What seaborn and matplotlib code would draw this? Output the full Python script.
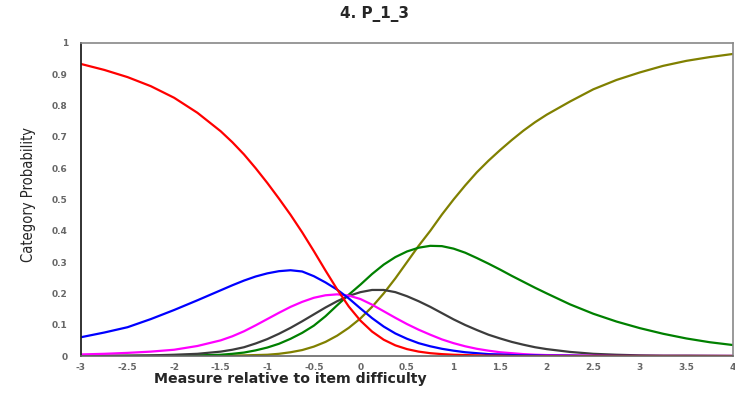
import matplotlib
matplotlib.use("Agg")
import pandas as pd
import matplotlib.pyplot as plt
import seaborn as sns
from matplotlib import font_manager

# measure relative to item difficulty (logits); finer steps where the curves bend
measure = [-3, -2.75, -2.5, -2.25, -2, -1.75, -1.5,
           -1.375, -1.25, -1.125, -1, -0.875, -0.75, -0.625, -0.5, -0.375, -0.25,
           -0.125, 0, 0.125, 0.25, 0.375, 0.5, 0.625, 0.75, 0.875, 1, 1.125, 1.25,
           1.375, 1.5, 1.625, 1.75, 1.875, 2,
           2.25, 2.5, 2.75, 3, 3.25, 3.5, 3.75, 4]

# category probability curves
cat_red = [0.933, 0.914, 0.891, 0.862, 0.825, 0.777, 0.718,
           0.683, 0.644, 0.6, 0.553, 0.503, 0.451, 0.395, 0.335, 0.273, 0.213,
           0.158, 0.113, 0.078, 0.052, 0.034, 0.022, 0.014, 0.009, 0.006, 0.004,
           0.003, 0.002, 0.001, 0.001, 0, 0, 0, 0,
           0, 0, 0, 0, 0, 0, 0, 0]
cat_blue = [0.06, 0.075, 0.092, 0.118, 0.147, 0.178, 0.21,
            0.226, 0.241, 0.254, 0.264, 0.271, 0.274, 0.27, 0.255, 0.235, 0.212,
            0.184, 0.152, 0.121, 0.094, 0.072, 0.055, 0.041, 0.031, 0.023, 0.017,
            0.012, 0.009, 0.006, 0.005, 0.003, 0.002, 0.002, 0.001,
            0.001, 0, 0, 0, 0, 0, 0, 0]
cat_magenta = [0.005, 0.007, 0.01, 0.014, 0.02, 0.032, 0.05,
               0.063, 0.079, 0.098, 0.118, 0.138, 0.157, 0.173, 0.186, 0.194,
               0.197, 0.193, 0.182, 0.164, 0.143, 0.122, 0.102, 0.084, 0.068,
               0.053, 0.041, 0.031, 0.023, 0.017, 0.012, 0.009, 0.006, 0.004,
               0.003, 0.002, 0.001, 0, 0, 0, 0, 0, 0]
cat_black = [0.0005, 0.001, 0.001, 0.002, 0.004, 0.007, 0.014,
             0.02, 0.028, 0.04, 0.054, 0.071, 0.09, 0.111, 0.133, 0.155, 0.175,
             0.192, 0.204, 0.211, 0.211, 0.204, 0.191, 0.175, 0.157, 0.137, 0.117,
             0.099, 0.083, 0.068, 0.056, 0.045, 0.036, 0.028, 0.022,
             0.013, 0.007, 0.004, 0.002, 0.001, 0.001, 0.0005, 0]
cat_green = [0, 0, 0.0005, 0.001, 0.001, 0.002, 0.004,
             0.007, 0.011, 0.018, 0.027, 0.039, 0.055, 0.074, 0.097, 0.127, 0.162,
             0.196, 0.228, 0.262, 0.292, 0.316, 0.334, 0.346, 0.352, 0.351, 0.343,
             0.33, 0.313, 0.295, 0.276, 0.256, 0.237, 0.218, 0.2,
             0.165, 0.135, 0.11, 0.089, 0.071, 0.056, 0.044, 0.035]
cat_olive = [0, 0, 0, 0, 0, 0.0005, 0.001,
             0.0015, 0.002, 0.003, 0.004, 0.007, 0.012, 0.019, 0.03, 0.045, 0.065,
             0.09, 0.12, 0.157, 0.2, 0.248, 0.3, 0.352, 0.4, 0.452, 0.5,
             0.545, 0.587, 0.624, 0.658, 0.69, 0.72, 0.747, 0.771,
             0.813, 0.852, 0.882, 0.906, 0.927, 0.943, 0.955, 0.965]

x_ticks = [-3, -2.5, -2, -1.5, -1, -0.5, 0, 0.5, 1, 1.5, 2, 2.5, 3, 3.5, 4]
x_tick_labels = ["-3", "-2.5", "-2", "-1.5", "-1", "-0.5", "0", "0.5", "1", "1.5",
                 "2", "2.5", "3", "3.5", "4"]
y_ticks = [0, 0.1, 0.2, 0.3, 0.4, 0.5, 0.6, 0.7, 0.8, 0.9, 1]
y_tick_labels = ["0", "0.1", "0.2", "0.3", "0.4", "0.5", "0.6", "0.7", "0.8", "0.9", "1"]

series = {
    "6": (cat_olive, "#808000"),
    "5": (cat_green, "#008000"),
    "4": (cat_black, "#3c3c3c"),
    "3": (cat_magenta, "#ff00ff"),
    "2": (cat_blue, "#0000ff"),
    "1": (cat_red, "#ff0000"),
}

df = pd.concat(
    [pd.DataFrame({"measure": measure, "prob": vals, "cat": name})
     for name, (vals, _) in series.items()],
    ignore_index=True,
)
palette = {name: col for name, (_, col) in series.items()}

sns.set_style("white")
plt.rcParams["font.family"] = ["Liberation Sans", "DejaVu Sans"]

# look for an upright narrow face for the y label
narrow = None
for f in font_manager.fontManager.ttflist:
    fn = f.fname.lower()
    if ("narrow" in fn or "condensed" in fn) and f.style == "normal" \
            and "oblique" not in fn and "italic" not in fn and "bold" not in fn:
        narrow = f
        break

fig = plt.figure(figsize=(7.35, 3.94), dpi=100)
ax = fig.add_axes([81 / 735, 38 / 394, 652 / 735, 313 / 394])

sns.lineplot(data=df, x="measure", y="prob", hue="cat", palette=palette,
             hue_order=list(series.keys()), linewidth=1.6, legend=False, ax=ax)

ax.set_xlim(-3, 4)
ax.set_ylim(0, 1)
ax.set_xticks(x_ticks)
ax.set_xticklabels(x_tick_labels)
ax.set_yticks(y_ticks)
ax.set_yticklabels(y_tick_labels)
ax.tick_params(axis="y", direction="inout", length=7, width=1, color="#555555",
               pad=6, labelsize=6.5, labelcolor="#666666")
ax.tick_params(axis="x", direction="inout", length=4, width=1, color="#777777",
               pad=3, labelsize=6.5, labelcolor="#666666")
for lab in ax.get_xticklabels() + ax.get_yticklabels():
    lab.set_fontweight("bold")
    lab.set_family(["DejaVu Sans"])

ax.spines["left"].set_color("#222222")
ax.spines["left"].set_linewidth(1.3)
ax.spines["bottom"].set_color("#666666")
ax.spines["top"].set_color("#888888")
ax.spines["right"].set_color("#888888")
for side in ["bottom", "top", "right"]:
    ax.spines[side].set_linewidth(1.2)
ax.set_xlabel("")
ax.set_ylabel("")

fig.text(375 / 735, 1 - 14 / 394, "4. P_1_3", ha="center", va="center",
         fontsize=11, fontweight="bold", family=["DejaVu Sans"])
fig.text(290 / 735, 1 - 379 / 394, "Measure relative to item difficulty",
         ha="center", va="center", fontsize=10.2, fontweight="bold",
         family=["DejaVu Sans"])
if narrow is not None:
    fig.text(28 / 735, 1 - 194 / 394, "Category Probability", rotation=90,
             ha="center", va="center",
             fontproperties=font_manager.FontProperties(fname=narrow.fname, size=10.5))
else:
    fig.text(28 / 735, 1 - 194 / 394, "Category Probability", rotation=90,
             ha="center", va="center", fontsize=10.5)

fig.savefig("out.png", dpi=100)
